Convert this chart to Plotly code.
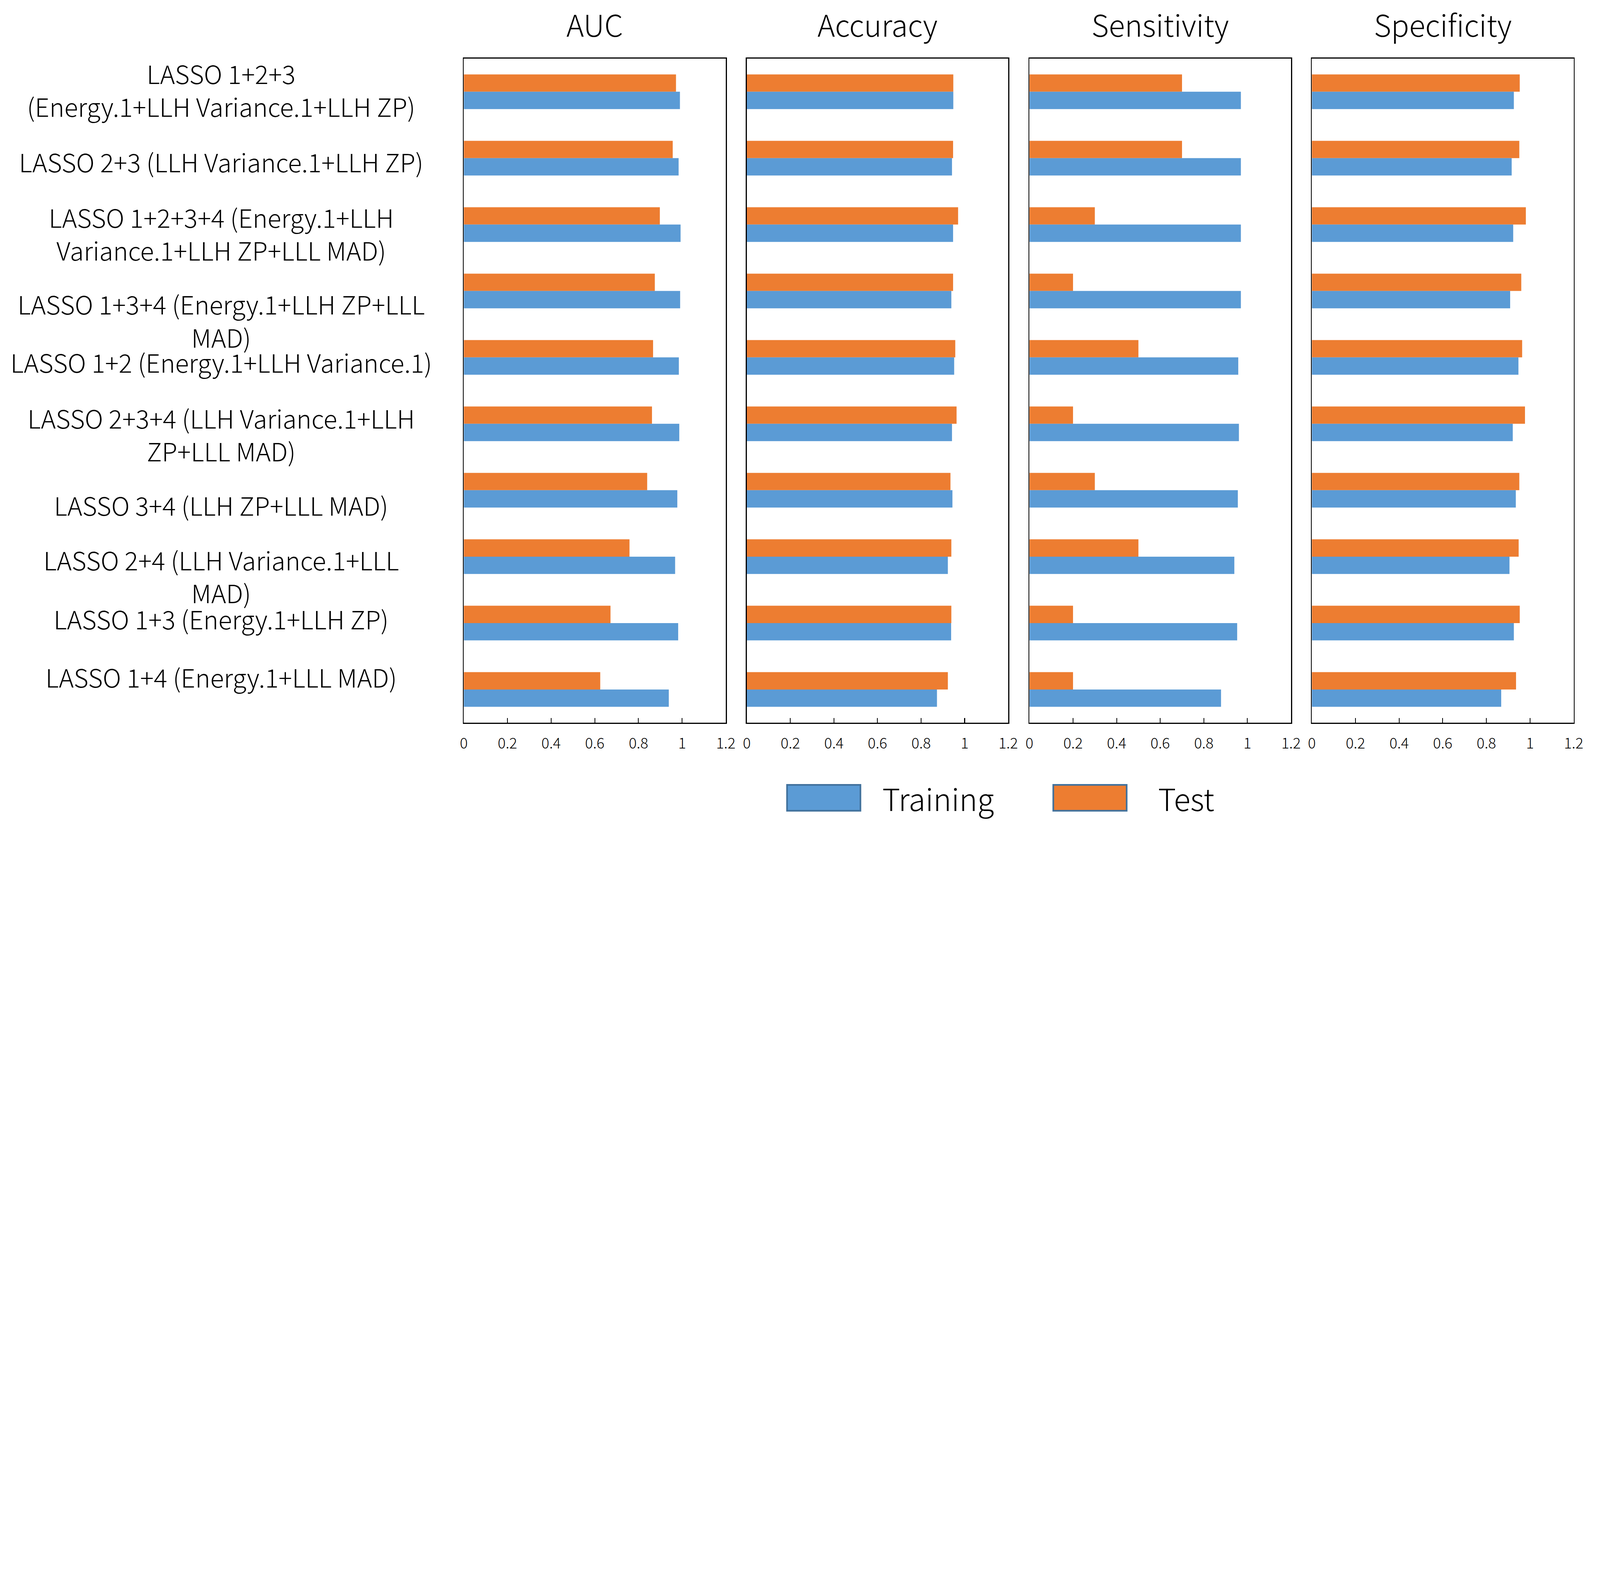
import plotly.graph_objects as go

# ---------------- data ----------------
labels = [
    "LASSO 1+2+3<br>(Energy.1+LLH Variance.1+LLH ZP)",
    "LASSO 2+3 (LLH Variance.1+LLH ZP)",
    "LASSO 1+2+3+4 (Energy.1+LLH<br>Variance.1+LLH ZP+LLL MAD)",
    "LASSO 1+3+4 (Energy.1+LLH ZP+LLL<br>MAD)",
    "LASSO 1+2 (Energy.1+LLH Variance.1)",
    "LASSO 2+3+4 (LLH Variance.1+LLH<br>ZP+LLL MAD)",
    "LASSO 3+4 (LLH ZP+LLL MAD)",
    "LASSO 2+4 (LLH Variance.1+LLL<br>MAD)",
    "LASSO 1+3 (Energy.1+LLH ZP)",
    "LASSO 1+4 (Energy.1+LLL MAD)",
]

metrics = ["AUC", "Accuracy", "Sensitivity", "Specificity"]

auc_training = [0.990, 0.984, 0.993, 0.991, 0.985, 0.987, 0.978, 0.968, 0.982, 0.939]
auc_test = [0.972, 0.957, 0.898, 0.875, 0.867, 0.862, 0.840, 0.759, 0.672, 0.625]

accuracy_training = [0.948, 0.942, 0.947, 0.939, 0.952, 0.942, 0.944, 0.923, 0.938, 0.873]
accuracy_test = [0.948, 0.947, 0.970, 0.947, 0.957, 0.963, 0.935, 0.939, 0.939, 0.923]

sensitivity_training = [0.970, 0.970, 0.970, 0.970, 0.958, 0.961, 0.956, 0.940, 0.953, 0.879]
sensitivity_test = [0.70, 0.70, 0.30, 0.20, 0.50, 0.20, 0.30, 0.50, 0.20, 0.20]

specificity_training = [0.926, 0.916, 0.923, 0.909, 0.947, 0.921, 0.935, 0.906, 0.926, 0.868]
specificity_test = [0.953, 0.951, 0.981, 0.960, 0.964, 0.977, 0.951, 0.948, 0.953, 0.936]

training = [auc_training, accuracy_training, sensitivity_training, specificity_training]
test = [auc_test, accuracy_test, sensitivity_test, specificity_test]

legend_names = ["Training", "Test"]

# ---------------- style ----------------
W, H = 7847, 4024
BLUE = "#5B9BD5"
ORANGE = "#ED7D31"
EDGE = "#41719C"
FONT = "Noto Sans CJK JP"

panel_px = [(2275, 3571), (3675, 4968), (5073, 6367), (6470, 7765)]
y_dom = [1 - 3544 / H, 1 - 287 / H]
# vertical nudges (px) of the category label blocks, as laid out in the original
label_yshift = [11, -15, -42, -143, -20, -49, -71, -94, 22, 63]

fig = go.Figure()
layout = {}
annotations = []

for i, m in enumerate(metrics):
    sfx = "" if i == 0 else str(i + 1)
    fig.add_trace(go.Bar(
        y=labels, x=test[i], orientation="h", name=legend_names[1],
        marker=dict(color=ORANGE, line=dict(width=0)),
        xaxis="x" + sfx, yaxis="y" + sfx, showlegend=False,
    ))
    fig.add_trace(go.Bar(
        y=labels, x=training[i], orientation="h", name=legend_names[0],
        marker=dict(color=BLUE, line=dict(width=0)),
        xaxis="x" + sfx, yaxis="y" + sfx, showlegend=False,
    ))
    dom = [panel_px[i][0] / W, panel_px[i][1] / W]
    layout["xaxis" + sfx] = dict(
        domain=dom, anchor="y" + sfx, range=[0, 1.2], tick0=0, dtick=0.2,
        ticks="inside", ticklen=23, tickwidth=4, tickcolor="black",
        showline=True, linewidth=5, linecolor="black", mirror=True,
        showgrid=False, zeroline=False,
        tickfont=dict(family=FONT, size=72, color="black", weight=300),
        ticklabelstandoff=36,
    )
    layout["yaxis" + sfx] = dict(
        domain=y_dom, anchor="x" + sfx, autorange="reversed",
        showticklabels=False, ticks="", showgrid=False, zeroline=False,
        showline=True, linewidth=5, linecolor="black", mirror=True,
    )
    annotations.append(dict(
        text=m, x=(dom[0] + dom[1]) / 2, y=1 - 118 / H, xref="paper", yref="paper",
        xanchor="center", yanchor="middle", showarrow=False,
        font=dict(family=FONT, size=146, color="black", weight=300),
    ))

for lab, dy in zip(labels, label_yshift):
    annotations.append(dict(
        text=lab, x=1075 / W, y=lab, xref="paper", yref="y", yshift=dy,
        xanchor="center", yanchor="middle", align="center", showarrow=False,
        font=dict(family=FONT, size=124, color="black", weight=300),
    ))

# legend drawn as shapes + text
shapes = []
leg_items = [(legend_names[0], BLUE, 3874, 4237, 4343), (legend_names[1], ORANGE, 5191, 5554, 5708)]
for name, col, x0, x1, tx in leg_items:
    shapes.append(dict(
        type="rect", xref="paper", yref="paper",
        x0=x0 / W, x1=x1 / W, y0=1 - 3976 / H, y1=1 - 3849 / H,
        fillcolor=col, line=dict(color=EDGE, width=8),
    ))
    annotations.append(dict(
        text=name, x=tx / W, y=1 - 3912 / H, xref="paper", yref="paper",
        xanchor="left", yanchor="middle", showarrow=False,
        font=dict(family=FONT, size=150, color="black", weight=300),
    ))

fig.update_layout(
    **layout,
    width=W, height=H,
    margin=dict(l=0, r=0, t=0, b=0),
    paper_bgcolor="white", plot_bgcolor="white",
    barmode="group", bargap=0.478, bargroupgap=0,
    annotations=annotations, shapes=shapes,
    font=dict(family=FONT, color="black"),
)

# fit the fixed-size figure into the browser viewport if it is narrower
post = """
(function(){
  document.body.style.margin = '0';
  var gd = document.getElementById('{plot_id}');
  var s = Math.min(window.innerWidth / %d, 1);
  if (s < 0.999) { gd.style.zoom = s; }
})();
""" % W

fig.write_html("out.html", post_script=post, config={"displayModeBar": False})
